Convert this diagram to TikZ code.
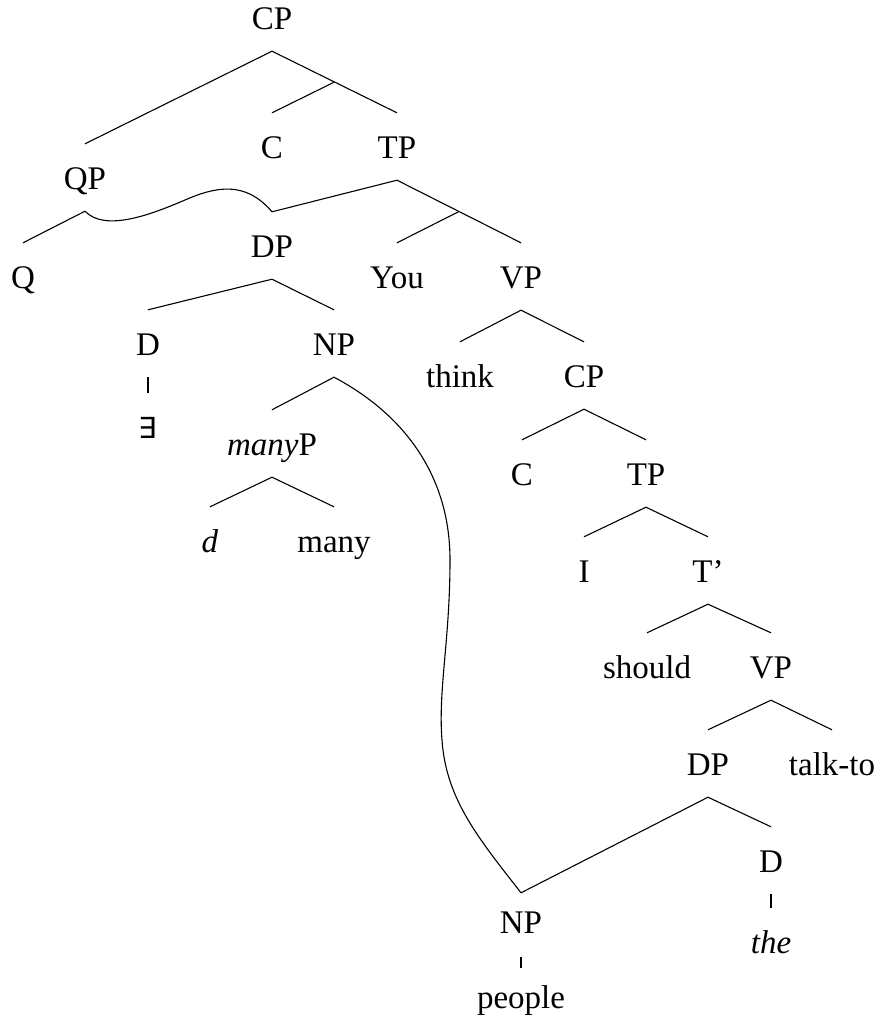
\documentclass[tikz,border=0pt]{standalone}
\usepackage{fontspec}
\usetikzlibrary{calc}
\setmainfont{Liberation Serif}
\newfontfamily\symf{DejaVu Sans}
\begin{document}
\begin{tikzpicture}[x=1pt,y=-1pt,
  lab/.style={anchor=base,inner sep=0pt,text height=45pt,text depth=22pt,font=\fontsize{33}{39}\selectfont},
  br/.style={line width=1.1pt}]
\useasboundingbox (0,0) rectangle (878,1034);
% nodes
\node[lab] (cp0) at (272,29) {CP};
\node[lab] (qp) at (85,189) {QP};
\node[lab] (c1) at (272,158) {C};
\node[lab] (tp1) at (397,158) {TP};
\node[lab] (q) at (23,288) {Q};
\node[lab] (dp1) at (272,257) {DP};
\node[lab] (you) at (397,288) {You};
\node[lab] (vp1) at (521,288) {VP};
\node[lab] (d1) at (148,355) {D};
\node[lab] (np1) at (334,355) {NP};
\node[lab] (ex) at (148,438) {\symf\fontsize{29}{32}\selectfont ∃};
\node[lab] (manyp) at (272,455) {\textit{many}P};
\node[lab] (dsm) at (210,552) {\textit{d}};
\node[lab] (many) at (334,552) {many};
\node[lab] (think) at (460,387) {think};
\node[lab] (cp2) at (584,387) {CP};
\node[lab] (c2) at (522,485) {C};
\node[lab] (tp2) at (646,485) {TP};
\node[lab] (ii) at (584,582) {I};
\node[lab] (tbar) at (708,582) {T’};
\node[lab] (should) at (647,678) {should};
\node[lab] (vp2) at (771,678) {VP};
\node[lab] (dp2) at (708,775) {DP};
\node[lab] (talkto) at (832,775) {talk-to};
\node[lab] (d2) at (771,872) {D};
\node[lab] (the) at (771,953) {\textit{the}};
\node[lab] (npb) at (521,933) {NP};
\node[lab] (people) at (521,1008) {people};
\coordinate (npbtop) at ([yshift=-5pt]npb.north);
% branches
\draw[br] (qp.north) -- (cp0.south) -- (tp1.north);
\draw[br] ($(cp0.south)!0.5!(tp1.north)$) -- (c1.north);
\draw[br] (qp.south) -- (q.north);
\draw[br] (dp1.north) -- (tp1.south) -- (vp1.north);
\draw[br] ($(tp1.south)!0.5!(vp1.north)$) -- (you.north);
\draw[br] (qp.south) .. controls (105,232) and (150,215) .. (185,200)
   .. controls (215,187) and (245,180) .. (dp1.north);
\draw[br] (d1.north) -- (dp1.south) -- (np1.north);
\draw[br] (d1.south) -- (ex.north);
\draw[br] (np1.south) -- (manyp.north);
\draw[br] (dsm.north) -- (manyp.south) -- (many.north);
\draw[br] (think.north) -- (vp1.south) -- (cp2.north);
\draw[br] (c2.north) -- (cp2.south) -- (tp2.north);
\draw[br] (ii.north) -- (tp2.south) -- (tbar.north);
\draw[br] (should.north) -- (tbar.south) -- (vp2.north);
\draw[br] (dp2.north) -- (vp2.south) -- (talkto.north);
\draw[br] (npbtop) -- (dp2.south) -- (d2.north);
\draw[br] (d2.south) -- (the.north);
\draw[br] ([yshift=-2pt]npb.south) -- ([yshift=-5pt]people.north);
\draw[br] (np1.south) .. controls (398,411) and (450,470) .. (450,560)
   .. controls (450,640) and (438,690) .. (442,740)
   .. controls (446,800) and (480,840) .. (npbtop);
\end{tikzpicture}
\end{document}
